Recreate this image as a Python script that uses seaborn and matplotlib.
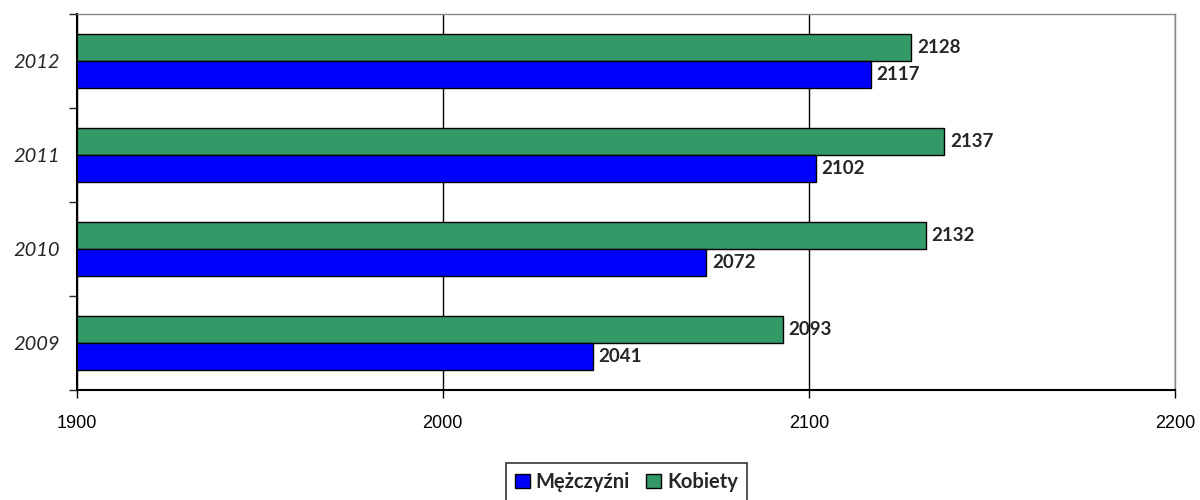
import pandas as pd
import matplotlib.pyplot as plt
import seaborn as sns
from matplotlib.patches import Patch

# values
years = ['2012', '2011', '2010', '2009']
men = [2117, 2102, 2072, 2041]
women = [2128, 2137, 2132, 2093]
x_ticks = [1900, 2000, 2100, 2200]

MEN_COLOR = '#0000FF'
WOMEN_COLOR = '#339966'


def main():
    df = pd.DataFrame({
        'rok': years * 2,
        'wartosc': women + men,
        'plec': ['Kobiety'] * len(years) + ['Mężczyźni'] * len(years),
    })

    sns.set_style('white')
    plt.rcParams['font.family'] = ['Liberation Sans', 'DejaVu Sans']

    fig, ax = plt.subplots(figsize=(12, 5), dpi=100)
    fig.subplots_adjust(left=0.064, right=0.979, top=0.972, bottom=0.22)

    sns.barplot(data=df, y='rok', x='wartosc', hue='plec', order=years,
                hue_order=['Kobiety', 'Mężczyźni'],
                palette={'Kobiety': WOMEN_COLOR, 'Mężczyźni': MEN_COLOR},
                saturation=1, orient='h', width=0.575, edgecolor='black',
                linewidth=1, ax=ax, legend=False)

    # value labels at the end of each bar
    for container in ax.containers:
        ax.bar_label(container, fmt='%d', padding=4, fontsize=13.5,
                     fontweight='bold', family=['Lato', 'DejaVu Sans'])

    ax.set_xlim(x_ticks[0], x_ticks[-1])
    ax.set_xticks(x_ticks)
    ax.set_xlabel('')
    ax.set_ylabel('')
    ax.tick_params(axis='x', labelsize=13, length=6, width=1, direction='out',
                   bottom=True, pad=12, colors='black')

    # category labels italic, ticks between categories
    ax.set_yticks(range(len(years)))
    ax.set_yticklabels(years, style='italic', fontsize=14.5,
                       family=['Lato', 'DejaVu Sans'])
    ax.tick_params(axis='y', length=0, pad=12)
    ax.set_yticks([i - 0.5 for i in range(len(years) + 1)], minor=True)
    ax.tick_params(axis='y', which='minor', length=6, width=1, left=True)
    ax.set_ylim(len(years) - 0.5, -0.5)

    ax.grid(axis='x', color='black', linewidth=1)
    ax.set_axisbelow(True)
    for side in ['left', 'bottom']:
        ax.spines[side].set_color('black')
        ax.spines[side].set_linewidth(1.5)
    for side in ['top', 'right']:
        ax.spines[side].set_color('#888888')
        ax.spines[side].set_linewidth(1)

    handles = [Patch(facecolor=MEN_COLOR, edgecolor='black', label='Mężczyźni'),
               Patch(facecolor=WOMEN_COLOR, edgecolor='black', label='Kobiety')]
    leg = fig.legend(handles=handles, loc='center', bbox_to_anchor=(0.522, 0.036),
                     ncol=2, frameon=True, fancybox=False, handlelength=0.75,
                     handleheight=0.75, handletextpad=0.3, columnspacing=0.8,
                     borderpad=0.45,
                     prop={'family': ['Lato', 'DejaVu Sans'], 'weight': 'bold', 'size': 14.5})
    leg.get_frame().set_edgecolor('black')
    leg.get_frame().set_linewidth(1.2)

    fig.savefig('out.png', dpi=100)


if __name__ == "__main__":
    main()
